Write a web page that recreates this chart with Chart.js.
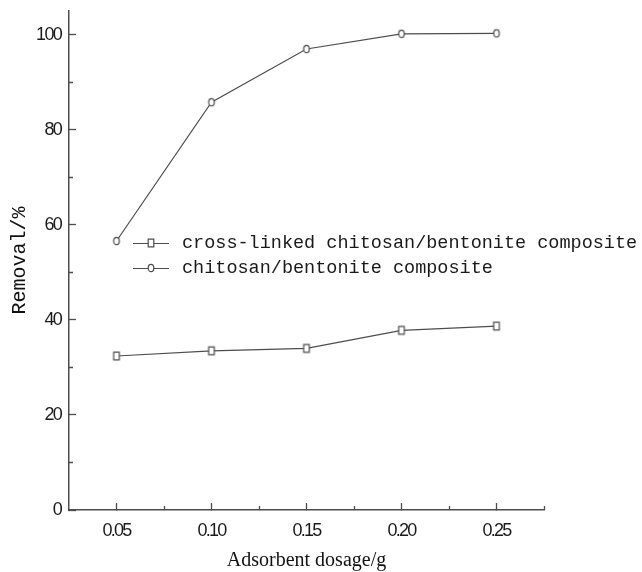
<!DOCTYPE html>
<html>
<head>
<meta charset="utf-8">
<script src="https://cdn.jsdelivr.net/npm/chart.js@4/dist/chart.umd.min.js"></script>
<style>
html,body{margin:0;padding:0;background:#fff;}
canvas{display:block;}
</style>
</head>
<body>
<canvas id="c" width="642" height="572"></canvas>
<script>
// ---- data ----
const dosage = [0.05, 0.10, 0.15, 0.20, 0.25];
const crossLinked = [32.4, 33.5, 34.0, 37.8, 38.7];
const chitosan = [56.6, 85.8, 97.0, 100.2, 100.3];
const seriesNames = ['cross-linked chitosan/bentonite composite', 'chitosan/bentonite composite'];
const xTickValues = [0.05, 0.10, 0.15, 0.20, 0.25];
const xMinorValues = [0.075, 0.125, 0.175, 0.225, 0.275];
const yTickValues = [0, 20, 40, 60, 80, 100];
const yMinorValues = [10, 30, 50, 70, 90];
const xTitle = 'Adsorbent dosage/g';
const yTitle = 'Removal/%';

const INK = '#4d4d4d';

function makeMarker(kind) {
  const cv = document.createElement('canvas');
  cv.width = 10; cv.height = 12;
  const g = cv.getContext('2d');
  g.fillStyle = '#fff';
  g.strokeStyle = INK;
  g.lineWidth = 1.2;
  g.beginPath();
  if (kind === 'circle') {
    g.ellipse(5, 6, 2.8, 3.7, 0, 0, Math.PI * 2);
  } else {
    g.rect(2.2, 2.2, 5.6, 7.6);
  }
  g.fill();
  g.stroke();
  return cv;
}
const squareImg = makeMarker('square');
const circleImg = makeMarker('circle');

const data = {
  datasets: [
    {
      label: seriesNames[0],
      data: dosage.map((x, i) => ({x: x, y: crossLinked[i]})),
      borderColor: INK, borderWidth: 1.2,
      pointStyle: squareImg, pointRadius: 4,
      backgroundColor: '#fff'
    },
    {
      label: seriesNames[1],
      data: dosage.map((x, i) => ({x: x, y: chitosan[i]})),
      borderColor: INK, borderWidth: 1.2,
      pointStyle: circleImg, pointRadius: 4,
      backgroundColor: '#fff'
    }
  ]
};

const spacingPlugin = {
  id: 'spacing',
  beforeDraw(chart) {
    Object.values(chart.scales).forEach(s => {
      if (s._wrappedLabels) return;
      const orig = s.drawLabels.bind(s);
      s.drawLabels = function (area) {
        const c = chart.ctx;
        c.save();
        c.letterSpacing = '-1.7px';
        orig(area);
        c.restore();
      };
      s._wrappedLabels = true;
    });
  }
};

const minorPlugin = {
  id: 'minor',
  afterDraw(chart) {
    const c = chart.ctx, xs = chart.scales.x, ys = chart.scales.y;
    const a = chart.chartArea;
    c.save();
    c.strokeStyle = INK;
    c.lineWidth = 1.3;
    c.beginPath();
    xMinorValues.forEach(v => {
      const px = Math.round(xs.getPixelForValue(v)) + 0.5;
      c.moveTo(px, a.bottom); c.lineTo(px, a.bottom - 4);
    });
    yMinorValues.forEach(v => {
      const py = Math.round(ys.getPixelForValue(v)) + 0.5;
      c.moveTo(a.left, py); c.lineTo(a.left + 4, py);
    });
    c.stroke();
    c.restore();
  }
};

const legendPlugin = {
  id: 'customLegend',
  afterDraw(chart) {
    const c = chart.ctx, a = chart.chartArea;
    const x0 = a.left + 64, y0 = a.top + 232, rowH = 25;
    const imgs = [squareImg, circleImg];
    c.save();
    c.font = '18.5px "Liberation Mono"';
    c.textBaseline = 'middle';
    c.fillStyle = '#1a1a1a';
    seriesNames.forEach((name, i) => {
      const y = y0 + i * rowH;
      c.strokeStyle = INK; c.lineWidth = 1.2;
      c.beginPath(); c.moveTo(x0, y + 0.5); c.lineTo(x0 + 36, y + 0.5); c.stroke();
      c.drawImage(imgs[i], x0 + 18 - 5, y - 6);
      c.fillText(name, x0 + 49, y);
    });
    c.restore();
  }
};

new Chart(document.getElementById('c'), {
  type: 'line',
  data: data,
  plugins: [spacingPlugin, minorPlugin, legendPlugin],
  options: {
    responsive: false,
    devicePixelRatio: 1,
    animation: false,
    layout: {padding: {top: 11, right: 98, left: 0, bottom: 0}},
    plugins: {legend: {display: false}, tooltip: {enabled: false}},
    scales: {
      x: {
        type: 'linear', min: 0.025, max: 0.275,
        afterBuildTicks: s => { s.ticks = xTickValues.map(v => ({value: v})); },
        afterFit: s => { s.height = 62; s.paddingLeft = 0; s.paddingRight = 0; },
        border: {color: INK, width: 1.5},
        grid: {drawOnChartArea: false, drawTicks: true, tickLength: -7, tickColor: INK, tickWidth: 1.3},
        ticks: {
          color: '#1a1a1a', padding: 17, maxRotation: 0, autoSkip: false,
          font: {family: '"Liberation Sans"', size: 18},
          callback: v => Number(v).toFixed(2)
        },
        title: {
          display: true, text: xTitle, color: '#111',
          font: {family: '"Liberation Serif"', size: 20, lineHeight: 1.1},
          padding: {top: 0, bottom: 0}
        }
      },
      y: {
        type: 'linear', min: 0, max: 105,
        afterBuildTicks: s => { s.ticks = yTickValues.map(v => ({value: v})); },
        afterFit: s => { s.width = 69; s.paddingTop = 0; s.paddingBottom = 0; },
        border: {color: INK, width: 1.5},
        grid: {drawOnChartArea: false, drawTicks: true, tickLength: -7, tickColor: INK, tickWidth: 1.3},
        ticks: {
          color: '#1a1a1a', padding: 15, autoSkip: false,
          font: {family: '"Liberation Sans"', size: 18},
          callback: v => String(v)
        },
        title: {
          display: true, text: yTitle, color: '#111',
          font: {family: '"Liberation Mono"', size: 20},
          padding: {top: 8, bottom: 0}
        }
      }
    }
  }
});
</script>
</body>
</html>
